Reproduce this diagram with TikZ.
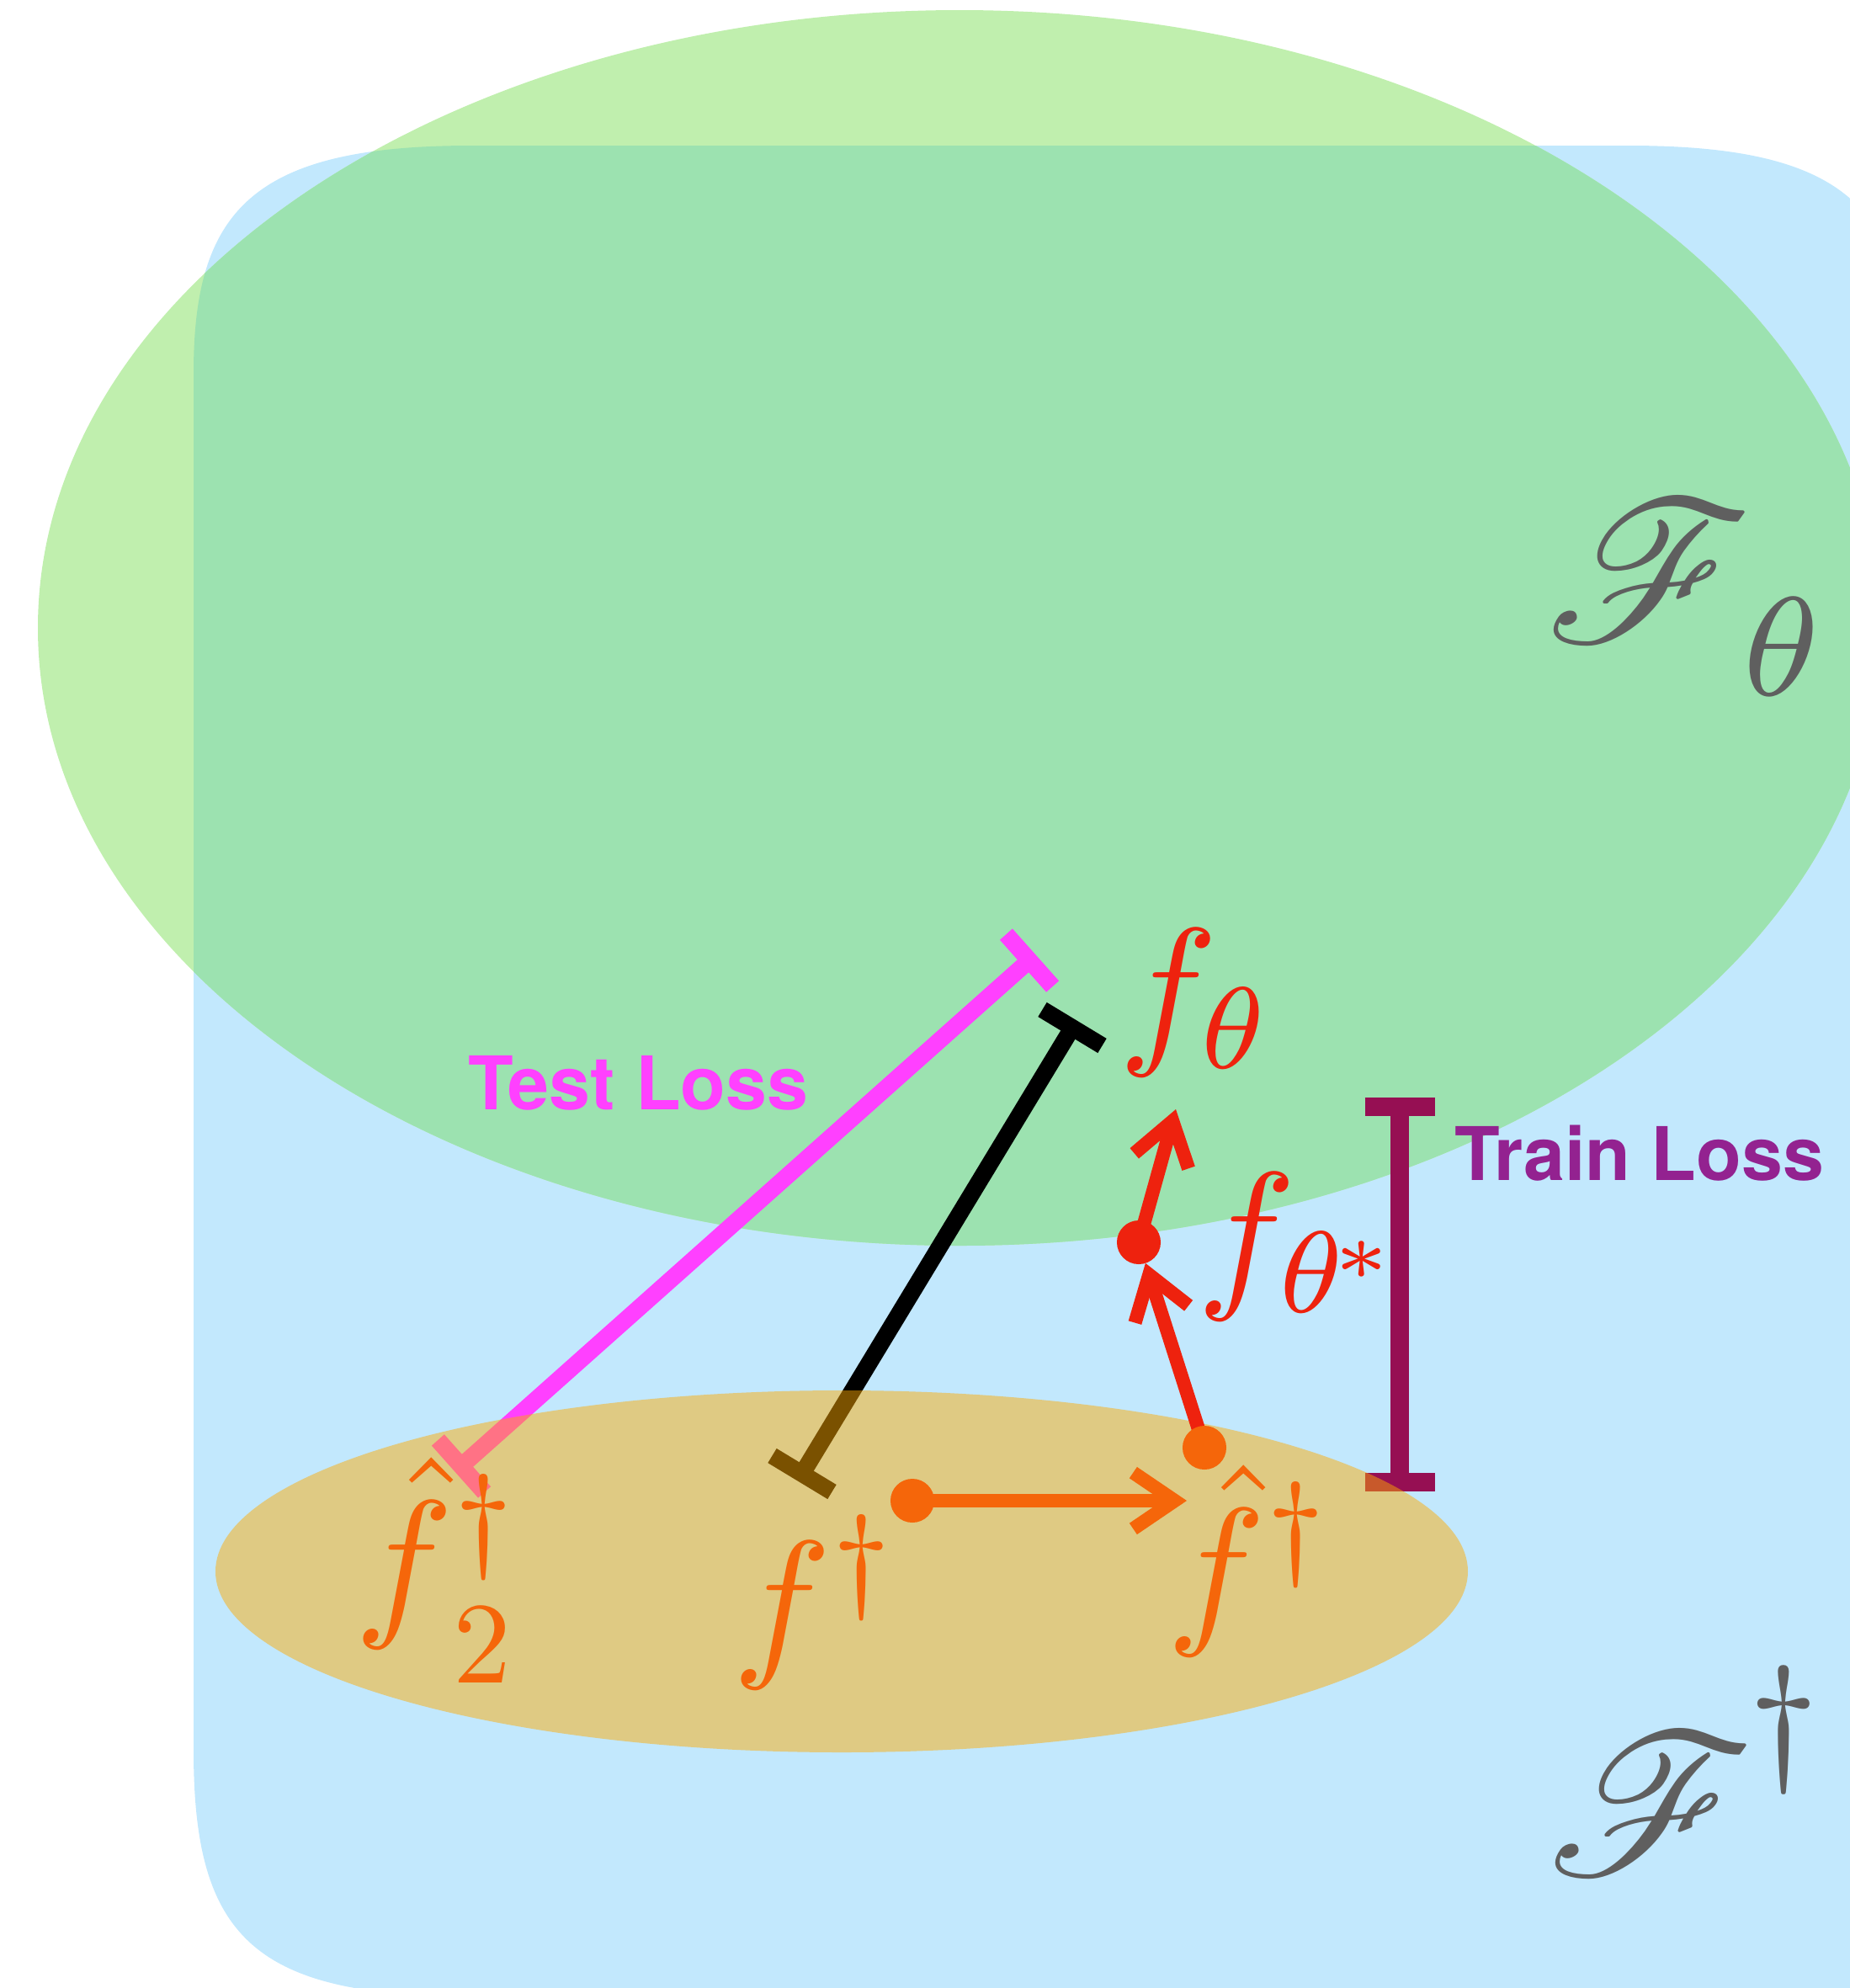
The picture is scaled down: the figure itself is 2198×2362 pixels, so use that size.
\documentclass[tikz,border=0pt]{standalone}
\usepackage[no-math]{fontspec}
\usepackage{mathrsfs}
\DeclareFontFamily{U}{rsfs}{\skewchar\font127 }
\DeclareFontShape{U}{rsfs}{m}{n}{<->rsfs10}{}
\DeclareFontFamily{OT1}{cmr}{\hyphenchar\font45 }
\DeclareFontShape{OT1}{cmr}{m}{n}{<->cmr10}{}
\newfontfamily\heros{TeX Gyre Heros}
\usetikzlibrary{arrows.meta}
\definecolor{bluefill}{HTML}{C2E8FD}
\definecolor{greenonly}{HTML}{C0EFAE}
\definecolor{overlapc}{HTML}{9CE2B0}
\definecolor{tanc}{HTML}{FFAA00}
\definecolor{grayc}{HTML}{5F5F5F}
\definecolor{fred}{HTML}{EE220E}
\definecolor{forange}{HTML}{F5660A}
\definecolor{fmag}{HTML}{FF40FF}
\definecolor{ptext}{HTML}{932290}
\definecolor{pbar}{HTML}{960F53}
\pgfdeclarelayer{bg}
\pgfdeclarelayer{low}
\pgfdeclarelayer{tanl}
\pgfdeclarelayer{arr}
\pgfsetlayers{bg,low,tanl,arr,main}
\newcommand{\mylabelmath}[1]{\scalebox{5.6}{$#1$}}
\newcommand{\myscrmath}[1]{\scalebox{6.8}{$#1$}}
\tikzset{
  lbl/.style={inner sep=0pt, outer sep=0pt, anchor=base west, font=\normalsize},
  scrlbl/.style={lbl, text=grayc},
  losslbl/.style={lbl, font=\heros\bfseries\fontsize{25}{30}\selectfont},
  dot/.style={circle, inner sep=0pt, outer sep=0pt, minimum size=14.8pt},
  capline/.style={line width=5.7pt, {Bar[width=23.6pt]}-{Bar[width=23.6pt]}},
  barbarrow/.style={line width=4.6pt, -{Straight Barb[length=14pt,width=19pt]}},
}
\begin{document}
\begin{tikzpicture}[x=0.01cm,y=-0.01cm]
\useasboundingbox (0,0) rectangle (2198,2362);
% background regions
\begin{pgfonlayer}{bg}
\fill[bluefill] (230,443) .. controls (230,250) and (300,173) .. (560,173) -- (1935,173)
  .. controls (2196,173) and (2265,250) .. (2265,443) -- (2265,2380) -- (560,2372)
  .. controls (300,2372) and (230,2300) .. (230,2080) -- cycle;
\fill[greenonly] (1140,746) ellipse [x radius=1095, y radius=734];
\begin{scope}
  \clip (1140,746) ellipse [x radius=1095, y radius=734];
  \fill[overlapc] (230,443) .. controls (230,250) and (300,173) .. (560,173) -- (1935,173)
  .. controls (2196,173) and (2265,250) .. (2265,443) -- (2265,2380) -- (560,2372)
  .. controls (300,2372) and (230,2300) .. (230,2080) -- cycle;
\end{scope}
\end{pgfonlayer}
% loss bars
\coordinate (tl1) at (540.5,1748.6);
\coordinate (tl2) at (1230.5,1134.4);
\coordinate (bl1) at (947.8,1759.6);
\coordinate (bl2) at (1279.2,1212.4);
\coordinate (tr1) at (1663,1304);
\coordinate (tr2) at (1663,1772);
\begin{pgfonlayer}{low}
\draw[capline, fmag] (tl1) -- (tl2);
\draw[capline, black] (bl1) -- (bl2);
\draw[capline, pbar, line width=6.3pt] (tr1) -- (tr2);
\end{pgfonlayer}
% tan ellipse over the bars
\begin{pgfonlayer}{tanl}
\fill[tanc, fill opacity=0.48] (1000,1867) ellipse [x radius=744, y radius=215];
\end{pgfonlayer}
% dots
\node[dot, fill=forange] (d1) at (1084,1783) {};
\node[dot, fill=forange] (d2) at (1431,1720) {};
\node[dot, fill=fred] (d3) at (1353,1476) {};
\coordinate (otip) at (1410,1783);
\coordinate (rtip) at (1397,1318);
\begin{pgfonlayer}{arr}
\draw[barbarrow, forange] (d1.center) -- (otip);
\draw[barbarrow, fred] (d2.center) -- (d3);
\draw[barbarrow, fred] (d3.center) -- (rtip);
\end{pgfonlayer}
% labels
\node[losslbl, text=fmag] (testl) at (556,1318) {Test Loss};
\node[losslbl, text=ptext] (trainl) at (1728,1402) {Train Loss};
\node[lbl, text=fred] (fth) at (1329,1240) {\mylabelmath{f_{\theta}}};
\node[lbl, text=fred] (fths) at (1422,1530) {\mylabelmath{f_{\theta^{\kern-0.8pt *}}}};
\node[lbl, text=forange] (fhat) at (1386,1929) {\mylabelmath{\hat{f}{}^{\dagger}}};
\node[lbl, text=forange] (fhat2) at (421,1920) {\mylabelmath{\hat{f}{}_{\smash{\raisebox{-1.57pt}{$\scriptstyle 2$}}}^{\dagger}}};
\node[lbl, text=forange] (fdag) at (870,1968) {\mylabelmath{f{}^{\dagger}}};
\node[scrlbl] (Fth) at (1836,762) {\myscrmath{\mathscr{F}_{\kern0.75pt\raisebox{-1.2pt}{$\scriptstyle\theta$}}}};
\node[scrlbl] (Fdag) at (1838,2227) {\myscrmath{\mathscr{F}^{\kern-0.4pt\raisebox{1.84pt}{$\scriptstyle\dagger$}}}};
\end{tikzpicture}
\end{document}
